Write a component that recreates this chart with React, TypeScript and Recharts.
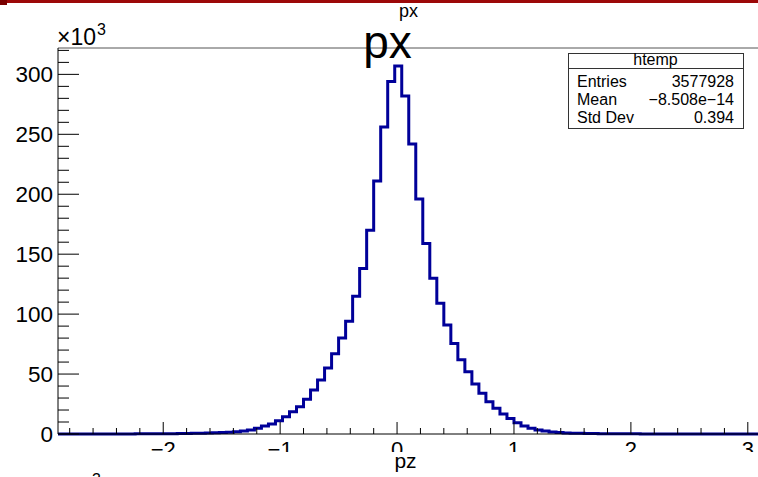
import { LineChart, Line, XAxis, YAxis, ReferenceLine } from "recharts";

// histogram binning (htemp: 100 bins from -2.9 to 3.1)
const X_MIN = -2.9;
const X_MAX = 3.1;
const BIN_W = 0.06;

// bin contents, in units of 10^3 entries
const counts = [
  0.02, 0.02, 0.03, 0.03, 0.04, 0.05, 0.05, 0.06, 0.07, 0.08,
  0.1, 0.12, 0.14, 0.17, 0.2, 0.25, 0.3, 0.36, 0.45, 0.55,
  0.7, 0.85, 1.0, 1.2, 1.5, 1.9, 2.5, 3.3, 4.7, 6.7,
  8.3, 11, 14.4, 18.6, 22.8, 29, 36.7, 45, 55, 67,
  80, 94, 115, 138, 170, 211, 256, 294, 307, 282,
  242, 196, 159, 130, 109, 91, 75.5, 62, 52, 41.7,
  34, 27, 21.4, 16.7, 13, 9.4, 6.7, 4.7, 3.3, 2.5,
  1.7, 1.2, 0.9, 0.7, 0.55, 0.45, 0.36, 0.3, 0.24, 0.2,
  0.16, 0.13, 0.11, 0.09, 0.07, 0.06, 0.05, 0.04, 0.035, 0.03,
  0.025, 0.02, 0.02, 0.015, 0.015, 0.01, 0.01, 0.01, 0.01, 0.01,
];

const xTicks = [
  -2.8, -2.6, -2.4, -2.2, -2, -1.8, -1.6, -1.4, -1.2, -1, -0.8, -0.6, -0.4, -0.2,
  0, 0.2, 0.4, 0.6, 0.8, 1, 1.2, 1.4, 1.6, 1.8, 2, 2.2, 2.4, 2.6, 2.8, 3,
];
const yTicks = [
  0, 10, 20, 30, 40, 50, 60, 70, 80, 90, 100, 110, 120, 130, 140, 150, 160,
  170, 180, 190, 200, 210, 220, 230, 240, 250, 260, 270, 280, 290, 300, 310, 320,
];

const stats = [
  { name: "Entries", value: "3577928" },
  { name: "Mean", value: "\u22128.508e\u221214" },
  { name: "Std Dev", value: "0.394" },
];

// stepAfter needs the left edge of each bin plus the closing right edge
const data = counts.map((c, i) => ({ x: X_MIN + i * BIN_W, count: c }));
data.push({ x: X_MAX, count: counts[counts.length - 1] });

const FONT = "'Liberation Sans', Arial, Helvetica, sans-serif";

const fmt = (v: number) => (v < 0 ? "\u2212" + Math.abs(v) : String(v));

function XTick(props: any) {
  const { x, y, payload } = props;
  const v = payload.value;
  const major = Math.abs(v - Math.round(v)) < 1e-6;
  return (
    <g>
      <line x1={x} x2={x} y1={y} y2={y - (major ? 12 : 6)} stroke="#000" />
      {major && (
        <text x={x} y={y + 23} textAnchor="middle" fontSize={22} fontFamily={FONT} fill="#000">
          {fmt(Math.round(v))}
        </text>
      )}
    </g>
  );
}

function YTick(props: any) {
  const { x, y, payload } = props;
  const v = payload.value;
  const major = v % 50 === 0;
  return (
    <g>
      <line x1={x} x2={x + (major ? 21 : 11)} y1={y} y2={y} stroke="#000" />
      {major && (
        <text x={x - 5} y={y + 8} textAnchor="end" fontSize={22.5} fontFamily={FONT} fill="#000">
          {v}
        </text>
      )}
    </g>
  );
}

export default function App() {
  return (
    <div
      style={{
        position: "fixed",
        left: 0,
        top: 0,
        width: 758,
        height: 477,
        overflow: "hidden",
        background: "#fff",
      }}
    >
      <div style={{ position: "absolute", left: 0, top: 0 }}>
        <LineChart
          width={770}
          height={477}
          data={data}
          margin={{ top: 48, right: 10.5, left: 0, bottom: 0 }}
        >
          <XAxis
            dataKey="x"
            type="number"
            domain={[X_MIN, X_MAX]}
            ticks={xTicks}
            interval={0}
            height={43}
            tickSize={0}
            tickMargin={0}
            tick={<XTick />}
            axisLine={{ stroke: "#000" }}
            tickLine={false}
          />
          <YAxis
            type="number"
            domain={[0, 322]}
            ticks={yTicks}
            interval={0}
            width={58}
            tickSize={0}
            tickMargin={0}
            tick={<YTick />}
            axisLine={{ stroke: "#000" }}
            tickLine={false}
          />
          <ReferenceLine y={322} stroke="#555" />
          <Line
            type="stepAfter"
            dataKey="count"
            stroke="#000099"
            strokeWidth={3}
            dot={false}
            isAnimationActive={false}
          />
        </LineChart>
      </div>
      <svg
        width={758}
        height={477}
        style={{ position: "absolute", left: 0, top: 0, pointerEvents: "none" }}
        fontFamily={FONT}
      >
        <rect x={0} y={0} width={758} height={3} fill="#9c0808" />
        <rect x={0} y={0} width={7} height={5} fill="#7a0000" />
        <text x={408.5} y={17} textAnchor="middle" fontSize={18}>px</text>
        <text x={387.5} y={58} textAnchor="middle" fontSize={46}>px</text>
        <text x={57} y={45} fontSize={23}>
          ×10
        </text>
        <text x={97} y={35} fontSize={16}>3</text>
        <rect x={568.5} y={53.5} width={175} height={75} fill="#fff" stroke="#333" />
        <line x1={568.5} x2={743.5} y1={68.5} y2={68.5} stroke="#333" />
        <text x={655.5} y={65} textAnchor="middle" fontSize={16}>htemp</text>
        {stats.map((s, i) => (
          <g key={s.name}>
            <text x={577} y={86.5 + i * 18} fontSize={16}>{s.name}</text>
            <text x={734} y={86.5 + i * 18} textAnchor="end" fontSize={16}>{s.value}</text>
          </g>
        ))}
        <rect x={0} y={452} width={758} height={25} fill="#fff" />
        <text x={405.5} y={468} textAnchor="middle" fontSize={21}>pz</text>
        <text x={92} y={485} fontSize={16}>3</text>
      </svg>
    </div>
  );
}
